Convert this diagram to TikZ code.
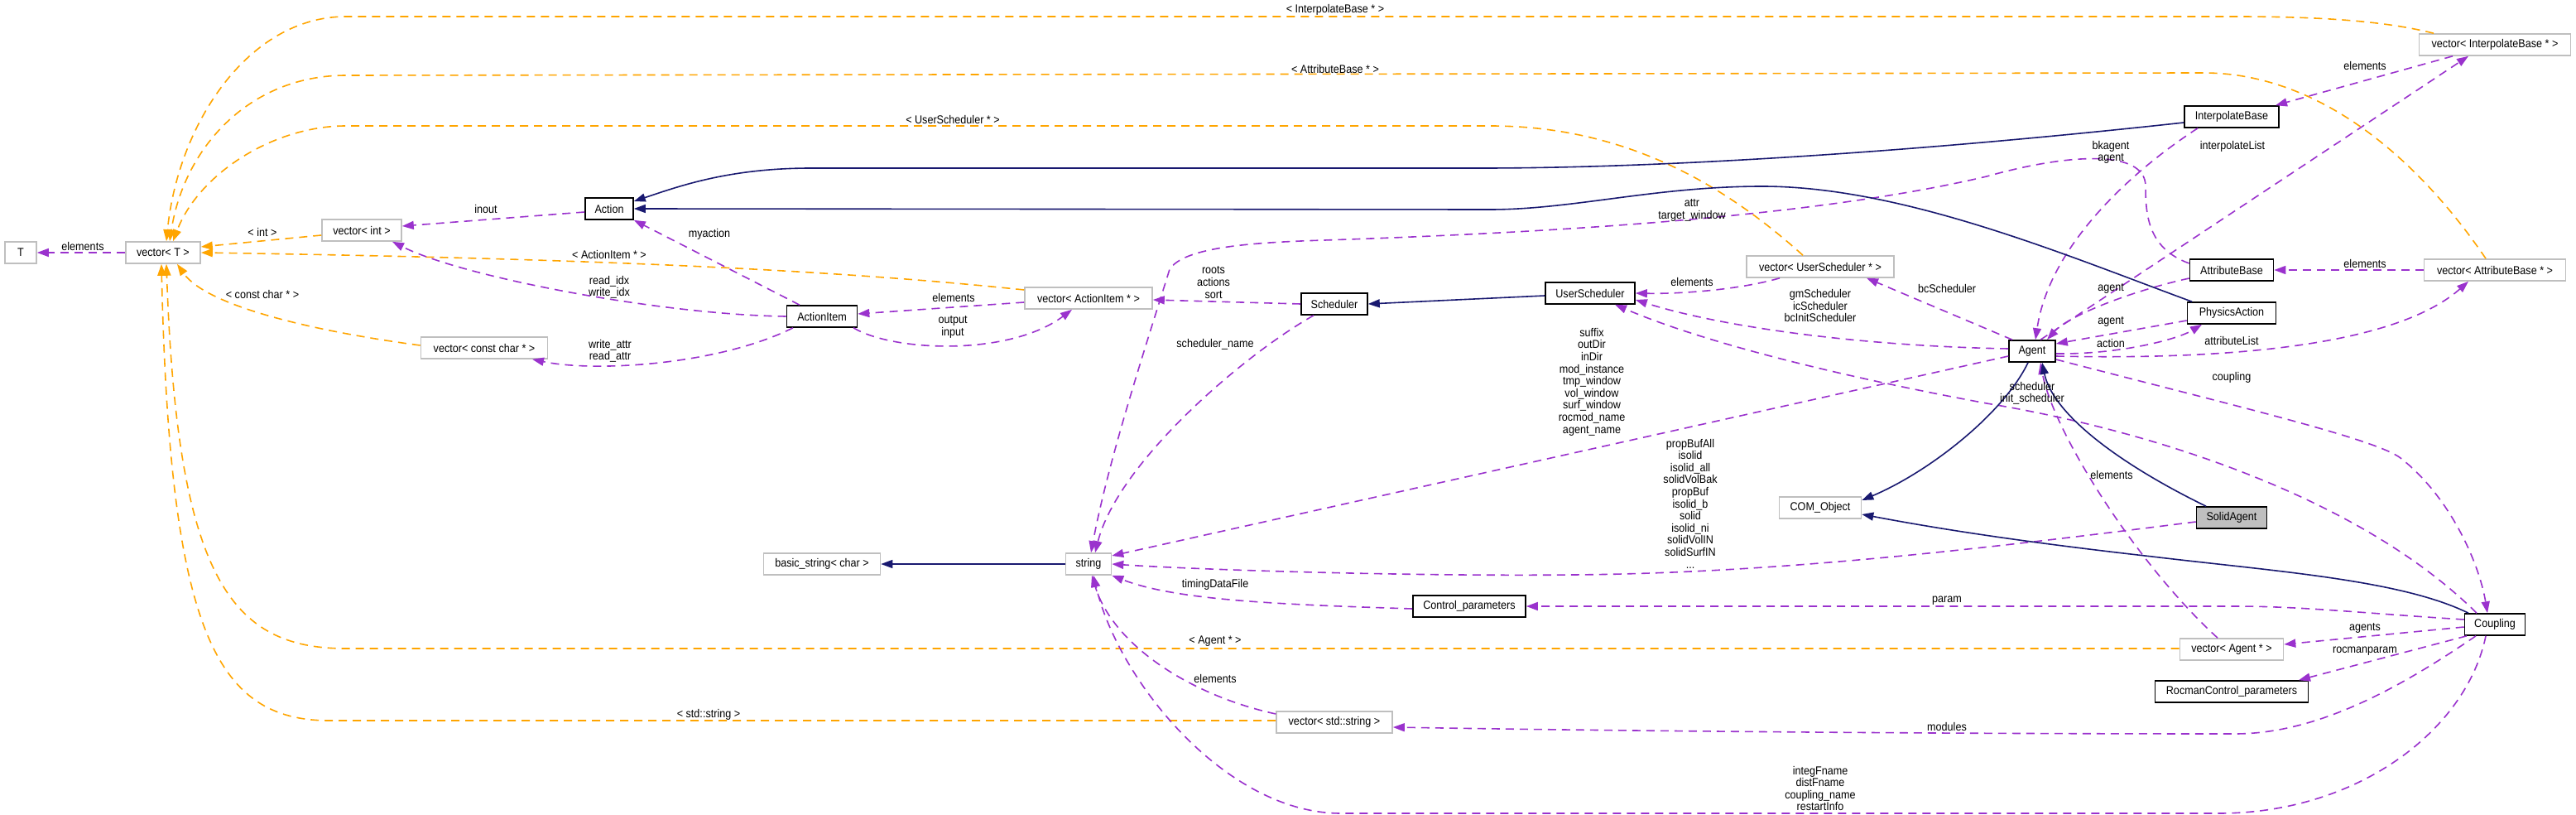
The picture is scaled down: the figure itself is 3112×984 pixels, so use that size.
\documentclass[tikz,border=0pt]{standalone}
\usepackage{fontspec}
\setmainfont{Liberation Sans}[FakeStretch=0.9]
\usetikzlibrary{arrows.meta}
\definecolor{pur}{HTML}{9A32CD}
\definecolor{org}{HTML}{FFA500}
\definecolor{nav}{HTML}{191970}
\definecolor{gry}{HTML}{BFBFBF}
\begin{document}
\begin{tikzpicture}[x=1pt,y=-1pt,
  every node/.style={font=\fontsize{14}{14.6}\selectfont},
  box/.style={draw=black, line width=1.6pt, fill=white, minimum height=26pt, inner sep=0pt},
  ext/.style={draw=gry, line width=1.6pt, fill=white, minimum height=26pt, inner sep=0pt},
  hl/.style={draw=black, line width=1.6pt, fill=gry, minimum height=26pt, inner sep=0pt},
  lbl/.style={align=center, inner sep=0pt},
  pe/.style={draw=pur, line width=1.6pt, dash pattern=on 10pt off 7pt, -{Triangle[length=14pt,width=10pt]}},
  oe/.style={draw=org, line width=1.6pt, dash pattern=on 10pt off 7pt, -{Triangle[length=14pt,width=10pt]}},
  ne/.style={draw=nav, line width=1.6pt, -{Triangle[length=14pt,width=10pt]}}
]
\useasboundingbox[fill=white] (0,0) rectangle (3112,984);

% nodes
\node[ext, minimum width=38pt] (T) at (25,305) {T};
\node[ext, minimum width=90pt] (vecT) at (197,305) {vector< T >};
\node[ext, minimum width=96pt] (vecint) at (437,278) {vector< int >};
\node[box, minimum width=58pt] (action) at (736,252) {Action};
\node[ext, minimum width=153pt] (veccc) at (585,420) {vector< const char * >};
\node[box, minimum width=85pt] (actionitem) at (993,382) {ActionItem};
\node[ext, minimum width=154pt] (vecai) at (1315,360) {vector< ActionItem * >};
\node[box, minimum width=80pt] (scheduler) at (1612,367) {Scheduler};
\node[box, minimum width=108pt] (usersched) at (1921,354) {UserScheduler};
\node[ext, minimum width=178pt] (vecus) at (2199,322) {vector< UserScheduler * >};
\node[ext, minimum width=141pt] (basicstr) at (993,681) {basic\_string< char >};
\node[ext, minimum width=55pt] (string) at (1315,681) {string};
\node[box, minimum width=136pt] (ctrl) at (1775,732) {Control\_parameters};
\node[ext, minimum width=140pt] (vecstd) at (1612,872) {vector< std::string >};
\node[ext, minimum width=99pt] (com) at (2199,613) {COM\_Object};
\node[ext, minimum width=183pt] (vecib) at (3014,54) {vector< InterpolateBase * >};
\node[box, minimum width=114pt] (ib) at (2696,141) {InterpolateBase};
\node[box, minimum width=101pt] (ab) at (2696,326) {AttributeBase};
\node[ext, minimum width=171pt] (vecab) at (3014,326) {vector< AttributeBase * >};
\node[box, minimum width=107pt] (pa) at (2696,378) {PhysicsAction};
\node[box, minimum width=56pt] (agent) at (2455,424) {Agent};
\node[hl, minimum width=85pt] (solid) at (2696,625) {SolidAgent};
\node[box, minimum width=73pt] (coupling) at (3014,754) {Coupling};
\node[ext, minimum width=125pt] (vecagent) at (2696,784) {vector< Agent * >};
\node[box, minimum width=185pt] (rocman) at (2696,835) {RocmanControl\_parameters};

% orange template edges
\draw[oe] ([xshift=-74pt]vecib.north) .. controls (2880,25) and (2800,20) .. (2700,20) -- (418,20) .. controls (300,20) and (215,150) .. ([xshift=4pt]vecT.north);
\draw[oe] ([xshift=-11pt]vecab.north) .. controls (2920,190) and (2800,87) .. (2660,88) -- (418,91) .. controls (300,91) and (222,180) .. ([xshift=8pt]vecT.north);
\draw[oe] ([xshift=-21pt]vecus.north) .. controls (2080,220) and (1960,152) .. (1800,152) -- (418,152) .. controls (330,152) and (240,210) .. ([xshift=12pt]vecT.north);
\draw[oe] ([yshift=-6pt]vecint.west) -- ([yshift=7pt]vecT.east);
\draw[oe] ([yshift=10pt]vecai.west) .. controls (1000,325) and (700,312) .. (vecT.east);
\draw[oe] ([yshift=3pt]veccc.west) .. controls (380,400) and (250,370) .. ([xshift=17pt]vecT.south);
\draw[oe] ([yshift=1pt]vecagent.west) -- (418,783) .. controls (280,783) and (214,700) .. ([xshift=4pt]vecT.south);
\draw[oe] ([yshift=2pt]vecstd.west) -- (398,870) .. controls (260,870) and (205,760) .. ([xshift=-2pt]vecT.south);

% purple usage edges
\draw[pe] (vecT.west) -- (T.east);
\draw[pe] ([yshift=-4pt]action.west) -- ([yshift=5pt]vecint.east);
\draw[pe] (actionitem.west) .. controls (800,380) and (560,335) .. ([xshift=37pt]vecint.south);
\draw[pe] ([xshift=-35pt]actionitem.south) .. controls (870,440) and (720,450) .. ([xshift=58pt]veccc.south);
\draw[pe] ([xshift=-27pt]actionitem.north) -- (action.south east);
\draw[pe] ([yshift=-5pt]vecai.west) -- ([yshift=3pt]actionitem.east);
\draw[pe] ([xshift=38pt]actionitem.south) .. controls (1080,425) and (1220,430) .. ([xshift=-20pt]vecai.south);
\draw[pe] (scheduler.west) -- ([yshift=-2pt]vecai.east);
\draw[pe] ([xshift=-25pt]scheduler.south) .. controls (1500,430) and (1350,560) .. ([xshift=8pt]string.north);
\draw[pe] ([yshift=8pt]ab.west) .. controls (2595,300) and (2592,260) .. (2592,225) .. controls (2592,180) and (2500,185) .. (2400,213) .. controls (2200,260) and (1900,280) .. (1600,290) .. controls (1500,293) and (1430,300) .. (1413,325) .. controls (1390,400) and (1340,550) .. ([xshift=3pt]string.north);
\draw[pe] ([xshift=-41pt]ib.south) .. controls (2570,210) and (2475,300) .. ([xshift=4pt]agent.north);
\draw[pe] ([yshift=-10pt]ab.west) .. controls (2580,350) and (2500,380) .. ([xshift=18pt]agent.north);
\draw[pe] ([yshift=-9pt]pa.west) -- ([yshift=9pt]agent.east);
\draw[pe] ([yshift=-3pt]agent.east) .. controls (2560,428) and (2630,410) .. ([xshift=-36pt]pa.south);
\draw[pe] ([yshift=-6pt]agent.east) .. controls (2620,433) and (2880,430) .. ([xshift=-32pt]vecab.south);
\draw[pe] ([xshift=10pt]agent.north) -- ([xshift=-32pt]vecib.south);
\draw[pe] ([xshift=-51pt]vecib.south) -- ([xshift=53pt]ib.north);
\draw[pe] (vecab.west) -- (ab.east);
\draw[pe] ([xshift=-49pt]vecus.south) .. controls (2100,350) and (2030,355) .. (usersched.east);
\draw[pe] ([yshift=3pt]agent.west) .. controls (2250,418) and (2080,395) .. ([yshift=-8pt]usersched.east);
\draw[pe] ([xshift=-24pt]agent.north) -- ([xshift=56pt]vecus.south);
\draw[pe] ([xshift=-22pt]coupling.north) .. controls (2850,600) and (2600,520) .. (2400,487) .. controls (2200,450) and (2050,410) .. ([xshift=30pt]usersched.south);
\draw[pe] ([yshift=-10pt]agent.east) .. controls (2700,490) and (2870,530) .. (2900,553) .. controls (2960,600) and (2995,680) .. ([xshift=-9pt]coupling.north);
\draw[pe] ([yshift=6pt]coupling.west) .. controls (2850,740) and (2780,732) .. (2700,732) -- (ctrl.east);
\draw[pe] ([yshift=-3pt]coupling.west) -- ([yshift=6pt]vecagent.east);
\draw[pe] ([xshift=-34pt]coupling.south) -- ([xshift=81pt]rocman.north);
\draw[pe] ([xshift=-23pt]coupling.south) .. controls (2900,830) and (2800,886) .. (2700,886) .. controls (2200,886) and (1800,880) .. ([yshift=-6pt]vecstd.east);
\draw[pe] ([xshift=-11pt]coupling.south) .. controls (2980,880) and (2850,982) .. (2680,982) -- (1620,982) .. controls (1480,982) and (1350,820) .. ([xshift=6pt]string.south);
\draw[pe] ([yshift=10pt]vecstd.west) .. controls (1440,840) and (1345,780) .. ([xshift=4pt]string.south);
\draw[pe] ([yshift=-3pt]ctrl.west) .. controls (1550,730) and (1420,725) .. (string.south east);
\draw[pe] ([yshift=-6pt]agent.west) -- ([yshift=10pt]string.east);
\draw[pe] ([yshift=-5pt]solid.west) .. controls (2400,662) and (2150,692) .. (1900,694) .. controls (1700,696) and (1450,688) .. (string.east);
\draw[pe] ([xshift=-17pt]vecagent.north) .. controls (2580,680) and (2480,520) .. ([xshift=10pt]agent.south);

% navy inheritance edges
\draw[ne] ([yshift=-3pt]usersched.west) -- (scheduler.east);
\draw[ne] ([yshift=-7pt]ib.west) .. controls (2300,185) and (2000,203) .. (1790,203) -- (980,203) .. controls (880,203) and (820,225) .. ([yshift=9pt]action.east);
\draw[ne] ([xshift=-48pt]pa.north) .. controls (2500,310) and (2300,225) .. (2129,225) .. controls (2000,225) and (1900,253) .. (1800,253) -- (action.east);
\draw[ne] ([xshift=-31pt]solid.north) .. controls (2560,560) and (2480,500) .. ([xshift=12pt]agent.south);
\draw[ne] ([xshift=-5pt]agent.south) .. controls (2420,500) and (2330,570) .. ([yshift=9pt]com.east);
\draw[ne] ([xshift=-32pt]coupling.north) .. controls (2900,700) and (2750,690) .. (2600,672) .. controls (2450,655) and (2350,640) .. ([yshift=-8pt]com.east);
\draw[ne] (string.west) -- (basicstr.east);

% labels
\node[lbl] (l01) at (100,297) {elements};
\node[lbl] (l02) at (587,252) {inout};
\node[lbl] (l03) at (317,280) {< int >};
\node[lbl] (l04) at (736,307) {< ActionItem * >};
\node[lbl] (l05) at (736,347) {read\_idx\\write\_idx};
\node[lbl] (l06) at (317,355) {< const char * >};
\node[lbl] (l07) at (737,424) {write\_attr\\read\_attr};
\node[lbl] (l08) at (1613,12) {< InterpolateBase * >};
\node[lbl] (l09) at (1613,83) {< AttributeBase * >};
\node[lbl] (l10) at (1151,144) {< UserScheduler * >};
\node[lbl] (l11) at (857,283) {myaction};
\node[lbl] (l12) at (1152,359) {elements};
\node[lbl] (l13) at (1151,395) {output\\input};
\node[lbl] (l14) at (1466,341) {roots\\actions\\sort};
\node[lbl] (l15) at (1468,416) {scheduler\_name};
\node[lbl] (l16) at (2044,254) {attr\\target\_window};
\node[lbl] (l17) at (2044,340) {elements};
\node[lbl] (l18) at (2199,369) {gmScheduler\\icScheduler\\bcInitScheduler};
\node[lbl] (l19) at (2352,348) {bcScheduler};
\node[lbl] (l20) at (1923,461) {suffix\\outDir\\inDir\\mod\_instance\\tmp\_window\\vol\_window\\surf\_window\\rocmod\_name\\agent\_name};
\node[lbl] (l21) at (2042,608) {propBufAll\\isolid\\isolid\_all\\solidVolBak\\propBuf\\isolid\_b\\solid\\isolid\_ni\\solidVolIN\\solidSurfIN\\...};
\node[lbl] (l22) at (1468,706) {timingDataFile};
\node[lbl] (l23) at (1468,774) {< Agent * >};
\node[lbl] (l24) at (1468,819) {elements};
\node[lbl] (l25) at (856,863) {< std::string >};
\node[lbl] (l26) at (2352,725) {param};
\node[lbl] (l27) at (2352,877) {modules};
\node[lbl] (l28) at (2199,952) {integFname\\distFname\\coupling\_name\\restartInfo};
\node[lbl] (l29) at (2857,79) {elements};
\node[lbl] (l30) at (2550,184) {bkagent\\agent};
\node[lbl] (l31) at (2697,177) {interpolateList};
\node[lbl] (l32) at (2857,318) {elements};
\node[lbl] (l33) at (2550,348) {agent};
\node[lbl] (l34) at (2550,388) {agent};
\node[lbl] (l35) at (2550,414) {action};
\node[lbl] (l36) at (2696,411) {attributeList};
\node[lbl] (l37) at (2696,456) {coupling};
\node[lbl] (l38) at (2455,475) {scheduler\\init\_scheduler};
\node[lbl] (l39) at (2551,573) {elements};
\node[lbl] (l40) at (2857,758) {agents};
\node[lbl] (l41) at (2857,786) {rocmanparam};
\end{tikzpicture}
\end{document}
